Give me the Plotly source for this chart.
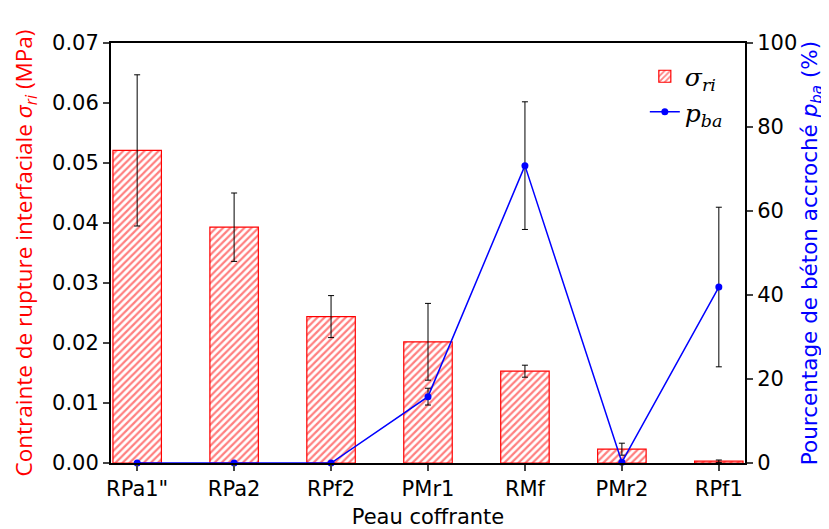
import plotly.graph_objects as go

categories = ['RPa1"', 'RPa2', 'RPf2', 'PMr1', 'RMf', 'PMr2', 'RPf1']
sigma_ri = [0.0521, 0.0393, 0.0244, 0.0202, 0.0153, 0.0023, 0.0003]
sigma_err = [0.0126, 0.0057, 0.0035, 0.0064, 0.0010, 0.0010, 0.0002]
p_ba = [0.0, 0.0, 0.0, 15.8, 70.8, 0.2, 41.9]
p_err = [0.0, 0.0, 0.0, 2.0, 15.2, 0.0, 19.0]

xs = list(range(len(categories)))

fig = go.Figure()
fig.add_trace(go.Bar(
    x=xs, y=sigma_ri, width=0.5, name="<i>σ<sub>ri</sub></i>",
    marker=dict(color="white", line=dict(color="red", width=1.2),
                pattern=dict(shape="/", fgcolor="red", bgcolor="white", size=5, solidity=0.45, fillmode="overlay")),
    error_y=dict(type="data", array=sigma_err, color="black", thickness=1, width=3),
    yaxis="y",
))
fig.add_trace(go.Scatter(
    x=xs, y=p_ba, mode="lines+markers", name="<i>p<sub>ba</sub></i>",
    line=dict(color="blue", width=1.5), marker=dict(color="blue", size=7),
    error_y=dict(type="data", array=p_err, color="black", thickness=1, width=3),
    yaxis="y2", cliponaxis=False,
))

fig.update_layout(
    width=821, height=521,
    margin=dict(l=103, r=84, t=35, b=66, autoexpand=False),
    plot_bgcolor="white", paper_bgcolor="white",
    font=dict(family="DejaVu Sans", size=21, color="black"),
    showlegend=True,
    legend=dict(x=0.842, y=0.975, xanchor="left", yanchor="top", bgcolor="rgba(0,0,0,0)",
                font=dict(size=25, family="DejaVu Serif")),
    xaxis=dict(range=[-0.27, 6.27], tickmode="array", tickvals=xs, ticktext=categories,
               ticks="outside", ticklen=6, tickwidth=1.5, showgrid=False, zeroline=False,
               showline=True, linewidth=2, linecolor="black", mirror=True, automargin=False,
               title=dict(text="Peau coffrante", standoff=11, font=dict(size=21))),
    yaxis=dict(range=[0, 0.07], dtick=0.01, tickformat=".2f", ticks="outside", ticklen=6,
               tickwidth=1.5, showgrid=False, zeroline=False, showline=True, linewidth=2,
               linecolor="black", automargin=False,
               title=dict(text="Contrainte de rupture interfaciale <i>σ<sub>ri</sub></i> (MPa)",
                          font=dict(color="red", size=22.5, family="Open Sans"), standoff=14)),
    yaxis2=dict(range=[0, 100], dtick=20, overlaying="y", side="right", ticks="outside",
                ticklen=6, tickwidth=1.5, showgrid=False, zeroline=False, showline=True,
                linewidth=2, linecolor="black", automargin=False,
                title=dict(text="Pourcentage de béton accroché <i>p<sub>ba</sub></i> (%)",
                           font=dict(color="blue", size=21.5), standoff=6)),
)

fig.write_html("out.html")
